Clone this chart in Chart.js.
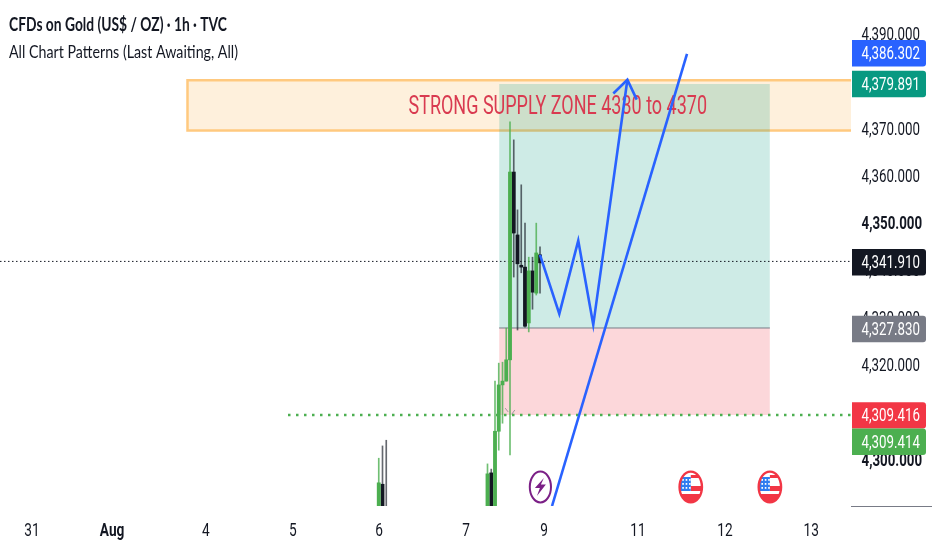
<!DOCTYPE html>
<html>
<head>
<meta charset="utf-8">
<style>html,body{margin:0;padding:0;background:#fff}canvas{display:block}</style>
<script src="https://cdn.jsdelivr.net/npm/chart.js@4/dist/chart.umd.js"></script>
</head>
<body>
<canvas id="c" width="932" height="550"></canvas>
<script>
// ---- candle data (bar number, open, high, low, close) ----
const barIndex = [101,102,103,130,131,132,133,134,135,136,137,138,139,140,141,142,143,144];
const opens  = [4288,4294.8,4289,4288,4297.2,4288,4306,4315.8,4316.6,4321.1,4360.8,4347.5,4341.1,4340.7,4328.9,4339.9,4335.2,4343.3];
const highs  = [4300.3,4302.9,4304.1,4299.1,4298,4316.6,4320.4,4320.6,4327.8,4371.4,4367.6,4352.8,4358.1,4350,4342.8,4342.8,4350,4345];
const lows   = [4288,4288,4288,4288,4288,4288,4302,4307.7,4316.6,4301,4338.6,4327.4,4339.5,4328,4327,4331.8,4334.8,4335.2];
const closes = [4295.1,4288,4288,4297,4288,4306,4315.8,4316.6,4321.1,4360.8,4347.9,4341.4,4340.7,4328.2,4339.9,4335.4,4343.7,4341.6];

// ---- axis ticks ----
const yTicks = [4300,4310,4320,4330,4340,4350,4360,4370,4380,4390];
const yBoldTicks = [4300,4350];
const xTickPos = [8.5,29.9,54.9,78.1,101.1,124.3,145.1,170.1,193.3,216.3];
const xTickLabels = ['31','Aug','4','5','6','7','9','11','12','13'];

// ---- drawings ----
const zoneHours = [50,240];
const zonePrices = [4380.2,4369.6];
const positionHours = [133.1,205.3];
const entryPrice = 4327.83, targetPrice = 4379.4, stopPrice = 4309.42;
const lastPrice = 4341.91;
const dottedGreenHours = [76.8,240];
const pathHours  = [144,149.15,154.2,158.2,167.3];
const pathPrices = [4343.3,4330.8,4346.3,4328.5,4380.3];
const barbHours  = [163.55,167.3,169.8];
const barbPrices = [4377.4,4380.3,4376.1];
const trendHours = [147.2,183.2];
const trendPrices = [4290.2,4385.8];
const markHoursA = [134.7,135.5], markPricesA = [4310.9,4310.1];
const markHoursB = [137.3,136.45], markPricesB = [4310.5,4309.6];
const eventHours = [144.1,184.2,205.3];
const eventKinds = ['bolt','flag','flag'];

// ---- price tags ----
const tagTexts  = ['4,386.302','4,379.891','4,341.910','4,327.830','4,309.416','4,309.414'];
const tagColors = ['#2962ff','#089981','#131722','#787b86','#f23645','#4caf50'];
const tagTops   = [40,70.7,249,315.7,402.3,428.5];
const tagHeights= [26.5,26.5,26.5,26.5,26.2,26.5];

const pts = (xs,ys)=>xs.map((x,i)=>({x,y:ys[i]}));
const isUp = i => closes[i] >= opens[i];
const idx = barIndex.map((_,i)=>i);
const GREEN='#4caf50', BLACK='#131722';

function line(data,color,width,order,extra){
  return Object.assign({type:'line',data,borderColor:color,borderWidth:width,pointRadius:0,tension:0,fill:false,order,borderJoinStyle:'miter'},extra||{});
}
function box(xs,top,bottom,color,order,label){
  return {type:'line',label,data:pts(xs,[top,top]),borderWidth:0,borderColor:'transparent',pointRadius:0,fill:{target:{value:bottom}},backgroundColor:color,order};
}
function bar(sel,lo,hi,color,thick,order){
  return {type:'bar',data:sel.map(i=>({x:barIndex[i],y:[lo(i),hi(i)]})),backgroundColor:color,barThickness:thick,order};
}
// tick labels keep the library's layout but are narrowed horizontally, as in the reference
function condense(scale,k,dy){
  if(scale._condensed) return;
  scale._condensed=true;
  const draw=scale.drawLabels;
  scale.drawLabels=function(area){
    const ctx=this.ctx, orig=ctx.fillText;
    ctx.fillText=function(t,x,y){
      ctx.save(); ctx.translate(x,y+dy); ctx.scale(k,1); orig.call(ctx,t,0,0); ctx.restore();
    };
    draw.call(this,area);
    delete ctx.fillText;
  };
}

function fit(ctx,text,x,base,w,font,color){
  ctx.save();
  ctx.font=font; ctx.fillStyle=color; ctx.textAlign='left'; ctx.textBaseline='alphabetic';
  const m=ctx.measureText(text).width;
  ctx.translate(x,base); ctx.scale(w/m,1);
  ctx.fillText(text,0,0);
  ctx.restore();
}
function bolt(ctx,x,y){
  ctx.save();
  ctx.strokeStyle='#7b1f86'; ctx.lineWidth=2; ctx.fillStyle='#fff';
  ctx.beginPath(); ctx.ellipse(x,y,10.6,15.4,0,0,Math.PI*2); ctx.fill(); ctx.stroke();
  ctx.fillStyle='#7b1f86';
  ctx.beginPath();
  ctx.moveTo(x+3.5,y-9); ctx.lineTo(x-5.5,y+1); ctx.lineTo(x-0.5,y+1); ctx.lineTo(x-3.5,y+9);
  ctx.lineTo(x+5.5,y-2.5); ctx.lineTo(x+0.5,y-2.5); ctx.closePath(); ctx.fill();
  ctx.restore();
}
function flag(ctx,x,y){
  ctx.save();
  ctx.fillStyle='#fff';
  ctx.beginPath(); ctx.ellipse(x,y,11.2,15.4,0,0,Math.PI*2); ctx.fill();
  ctx.save(); ctx.clip();
  ctx.fillStyle='#f23645';
  ctx.fillRect(x-12,y+7,24,10);
  ctx.fillRect(x,y-1,12,5);
  ctx.fillRect(x,y-12,12,3);
  ctx.fillStyle='#2e7df0';
  ctx.fillRect(x-12,y-10,12,14);
  ctx.fillStyle='#fff';
  for(let r=0;r<3;r++)for(let c=0;c<3;c++)ctx.fillRect(x-8.5+c*3.4,y-8+r*4,1.6,1.8);
  ctx.restore();
  ctx.strokeStyle='#f23645'; ctx.lineWidth=2.4;
  ctx.beginPath(); ctx.ellipse(x,y,11.2,15.4,0,0,Math.PI*2); ctx.stroke();
  ctx.restore();
}

const overlay={
  id:'overlay',
  afterDatasetDraw(chart,args){
    if(chart.data.datasets[args.index].label==='stop'){
      fit(chart.ctx,'STRONG SUPPLY ZONE 4330 to 4370',408.5,114,298.5,"25px Roboto",'#d93a50');
    }
  },
  afterDraw(chart){
    const ctx=chart.ctx, xs=chart.scales.x, a=chart.chartArea;
    ctx.save(); ctx.strokeStyle='#787b86'; ctx.lineWidth=1;
    ctx.beginPath(); ctx.moveTo(a.right,a.bottom+.5); ctx.lineTo(932,a.bottom+.5); ctx.stroke(); ctx.restore();
    fit(ctx,'CFDs on Gold (US$ / OZ) · 1h · TVC',9,31,218,"bold 18px Lato",BLACK);
    fit(ctx,'All Chart Patterns (Last Awaiting, All)',9,58,229,"18px Lato",BLACK);
    eventHours.forEach((h,i)=>{
      const x=xs.getPixelForValue(h);
      (eventKinds[i]==='bolt'?bolt:flag)(ctx,x,487);
    });
    tagTexts.forEach((t,i)=>{
      ctx.save(); ctx.fillStyle=tagColors[i];
      ctx.beginPath(); ctx.roundRect(852,tagTops[i],74,tagHeights[i],[0,3,3,0]); ctx.fill(); ctx.restore();
      fit(ctx,t,861.5,tagTops[i]+19,58.5,"18px Roboto",'#fff');
    });
  }
};

new Chart(document.getElementById('c'),{
  data:{datasets:[
    box(zoneHours,zonePrices[0],zonePrices[1],'#fef0dc',20,'zone'),
    line(pts([zoneHours[1],zoneHours[0],zoneHours[0],zoneHours[1]],[zonePrices[0],zonePrices[0],zonePrices[1],zonePrices[1]]),'#ffc97f',2.5,19),
    box(positionHours,targetPrice,entryPrice,'rgba(8,153,129,0.2)',18,'target'),
    box(positionHours,entryPrice,stopPrice,'rgba(242,54,69,0.2)',17,'stop'),
    line(pts(positionHours,[entryPrice,entryPrice]),'#787b86',1,16),
    line(pts([0,240],[lastPrice,lastPrice]),BLACK,1,15,{borderDash:[1.5,2.5]}),
    line(pts(dottedGreenHours,[stopPrice,stopPrice]),GREEN,2.5,14,{borderDash:[2.5,5.5]}),
    line(pts(markHoursA,markPricesA),'rgba(120,123,134,.7)',1,13),
    line(pts(markHoursB,markPricesB),'rgba(120,123,134,.7)',1,13),
    bar(idx.filter(isUp),i=>lows[i],i=>highs[i],'rgba(76,175,80,.8)',1,6),
    bar(idx.filter(i=>!isUp(i)),i=>lows[i],i=>highs[i],'rgba(19,23,34,.65)',1,6),
    bar(idx.filter(isUp),i=>opens[i],i=>closes[i],GREEN,3.2,5),
    bar(idx.filter(i=>!isUp(i)),i=>closes[i],i=>opens[i],BLACK,3.2,5),
    line(pts(pathHours,pathPrices),'#2962ff',2.6,2),
    line(pts(barbHours,barbPrices),'#2962ff',2.6,2),
    line(pts(trendHours,trendPrices),'#2962ff',2.6,1)
  ]},
  options:{
    responsive:false,animation:false,devicePixelRatio:1,
    layout:{padding:0,autoPadding:false},
    plugins:{legend:{display:false},tooltip:{enabled:false},title:{display:false}},
    datasets:{bar:{grouped:false}},
    events:[],
    scales:{
      x:{
        type:'linear',min:0,max:226.93,offset:false,
        border:{display:false},grid:{display:false,offset:false},
        afterBuildTicks(s){s.ticks=xTickPos.map(v=>({value:v}));},
        afterFit(s){s.height=44;s.paddingLeft=0;s.paddingRight=0;condense(s,0.76,0);},
        ticks:{
          autoSkip:false,maxRotation:0,minRotation:0,padding:7,color:BLACK,
          font:c=>({family:'Roboto',size:18,weight:xTickLabels[xTickPos.indexOf(c.tick&&c.tick.value)]==='Aug'?'bold':'normal'}),
          callback:v=>xTickLabels[xTickPos.indexOf(v)]
        }
      },
      y:{
        type:'linear',position:'right',min:4290.2,max:4397.17,
        border:{display:false},grid:{display:false},
        afterBuildTicks(s){s.ticks=yTicks.map(v=>({value:v}));},
        afterFit(s){s.width=81;s.paddingTop=0;s.paddingBottom=0;condense(s,0.74,1.5);},
        ticks:{
          autoSkip:false,padding:2.5,color:BLACK,crossAlign:'near',
          font:c=>({family:'Roboto',size:18,weight:yBoldTicks.includes(c.tick&&c.tick.value)?'bold':'normal'}),
          callback:v=>v.toLocaleString('en-US',{minimumFractionDigits:3,maximumFractionDigits:3})
        }
      }
    }
  },
  plugins:[overlay]
});
</script>
</body>
</html>
